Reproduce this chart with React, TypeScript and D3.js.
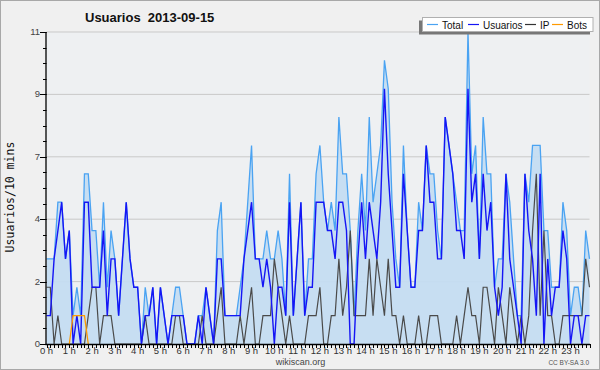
import { useEffect, useRef } from 'react';
import * as d3 from 'd3';

// values per 10 minutes, 2013-09-15 (144 slots)
const total = [
    3, 3, 3, 5, 5, 3, 4, 1, 2, 1,
    6, 6, 4, 4, 2, 5, 2, 4, 3, 1,
    3, 5, 3, 2, 2, 0, 2, 1, 2, 0,
    2, 1, 0, 1, 2, 2, 1, 0, 0, 0,
    1, 1, 2, 1, 0, 4, 5, 1, 1, 1,
    1, 2, 3, 5, 7, 3, 3, 3, 4, 3,
    3, 4, 3, 1, 6, 1, 3, 5, 1, 3,
    3, 6, 7, 5, 4, 5, 4, 8, 6, 6,
    4, 1, 4, 6, 4, 8, 5, 6, 7, 10,
    9, 5, 3, 2, 7, 4, 2, 2, 5, 4,
    7, 6, 6, 4, 3, 8, 7, 6, 5, 4,
    4, 11, 6, 7, 3, 8, 6, 6, 2, 3,
    3, 6, 5, 3, 1, 1, 6, 5, 7, 7,
    7, 4, 4, 2, 2, 2, 5, 4, 1, 2,
    2, 1, 4, 3,
];

const usuarios = [
    1, 1, 3, 4, 5, 3, 4, 0, 1, 0,
    5, 5, 2, 2, 2, 4, 1, 3, 3, 1,
    3, 5, 3, 2, 2, 0, 1, 1, 2, 0,
    2, 1, 0, 1, 1, 1, 1, 0, 0, 0,
    1, 0, 2, 1, 0, 3, 3, 1, 1, 1,
    1, 1, 3, 4, 5, 3, 3, 2, 3, 2,
    0, 2, 2, 1, 5, 1, 3, 5, 1, 2,
    2, 5, 5, 5, 4, 4, 3, 5, 5, 4,
    0, 0, 3, 5, 3, 5, 4, 3, 5, 9,
    6, 4, 2, 2, 6, 4, 2, 2, 4, 4,
    7, 5, 5, 3, 3, 8, 7, 6, 4, 4,
    3, 9, 5, 6, 3, 6, 4, 5, 2, 1,
    2, 6, 3, 2, 1, 0, 6, 4, 3, 1,
    6, 0, 3, 1, 2, 2, 4, 3, 0, 1,
    1, 0, 1, 1,
];

const ip = [
    2, 2, 0, 1, 0, 0, 0, 0, 0, 0,
    0, 1, 2, 2, 0, 1, 1, 1, 0, 0,
    0, 0, 0, 0, 0, 0, 1, 0, 0, 0,
    0, 0, 0, 0, 1, 1, 0, 0, 0, 0,
    0, 1, 0, 0, 0, 1, 2, 0, 0, 0,
    0, 1, 0, 1, 2, 0, 0, 1, 1, 1,
    3, 2, 1, 0, 1, 0, 0, 0, 0, 1,
    1, 1, 2, 0, 0, 1, 1, 3, 1, 2,
    4, 1, 1, 1, 1, 3, 1, 3, 2, 1,
    3, 1, 1, 0, 1, 0, 0, 0, 1, 0,
    0, 1, 1, 1, 0, 0, 0, 0, 1, 0,
    1, 2, 1, 1, 0, 2, 2, 1, 0, 2,
    1, 0, 2, 1, 0, 1, 0, 1, 4, 6,
    1, 4, 1, 1, 0, 0, 1, 1, 1, 1,
    1, 1, 3, 2,
];

const bots = [
    0, 0, 0, 0, 0, 0, 0, 1, 1, 1,
    1, 0, 0, 0, 0, 0, 0, 0, 0, 0,
    0, 0, 0, 0, 0, 0, 0, 0, 0, 0,
    0, 0, 0, 0, 0, 0, 0, 0, 0, 0,
    0, 0, 0, 0, 0, 0, 0, 0, 0, 0,
    0, 0, 0, 0, 0, 0, 0, 0, 0, 0,
    0, 0, 0, 0, 0, 0, 0, 0, 0, 0,
    0, 0, 0, 0, 0, 0, 0, 0, 0, 0,
    0, 0, 0, 0, 0, 0, 0, 0, 0, 0,
    0, 0, 0, 0, 0, 0, 0, 0, 0, 0,
    0, 0, 0, 0, 0, 0, 0, 0, 0, 0,
    0, 0, 0, 0, 0, 0, 0, 0, 0, 0,
    0, 0, 0, 0, 0, 0, 0, 0, 0, 0,
    0, 0, 0, 0, 0, 0, 0, 0, 0, 0,
    0, 0, 0, 0,
];

const hourLabels = d3.range(24).map(h => `${h} h`);
const seriesNames = ['Total', 'Usuarios', 'IP', 'Bots'];
const yMax = 11;

const W = 600;
const H = 370;
const FONT = '"Liberation Sans", Arial, sans-serif';

export default function App() {
    const svgRef = useRef<SVGSVGElement>(null);

    useEffect(() => {
        if (!svgRef.current) return;
        const svg = d3.select(svgRef.current);
        svg.selectAll('*').remove();

        const left = 46.5, right = 589.5, top = 32, bottom = 344;
        const x = d3.scaleLinear().domain([0, total.length - 1]).range([left, right]);
        const y = d3.scaleLinear().domain([0, yMax]).range([bottom, top]);

        // background + frame
        svg.append('rect')
            .attr('x', 0.5).attr('y', 0.5)
            .attr('width', W - 1).attr('height', H - 1)
            .attr('fill', '#f0f0f0')
            .attr('stroke', '#a8a8a8');

        svg.append('rect')
            .attr('x', left).attr('y', top)
            .attr('width', right - left).attr('height', bottom - top)
            .attr('fill', '#eef0f2');

        // grid lines on the major y ticks
        const majors = d3.range(6).map(k => k * yMax / 5);
        const minors = d3.range(21).map(k => k * yMax / 20);

        svg.append('g')
            .selectAll('line')
            .data(majors.slice(1))
            .join('line')
            .attr('x1', left).attr('x2', right)
            .attr('y1', d => y(d)).attr('y2', d => y(d))
            .attr('stroke', '#c9c9c9')
            .attr('stroke-width', 1);

        // Total area
        const idx = d3.range(total.length);
        const area = d3.area<number>()
            .x(i => x(i))
            .y0(y(0))
            .y1(i => y(total[i]));

        svg.append('path')
            .attr('d', area(idx))
            .attr('fill', '#c4dcf1')
            .attr('fill-opacity', 0.95);

        const line = (vals: number[]) => d3.line<number>()
            .x(i => x(i))
            .y(i => y(vals[i]))(idx);

        const series: [number[], string, number][] = [
            [total, '#4aa3f2', 1.3],
            [ip, '#4a4a4a', 1.2],
            [usuarios, '#1515f5', 1.4],
        ];

        series.forEach(([vals, color, w]) => {
            svg.append('path')
                .attr('d', line(vals))
                .attr('fill', 'none')
                .attr('stroke', color)
                .attr('stroke-width', w)
                .attr('stroke-linejoin', 'miter');
        });

        // bots only where they are present, drawn on top
        const botIdx = idx.filter(i => bots[i] > 0 || bots[i - 1] > 0 || bots[i + 1] > 0);
        svg.append('path')
            .attr('d', d3.line<number>().x(i => x(i)).y(i => y(bots[i]))(botIdx))
            .attr('fill', 'none')
            .attr('stroke', '#ff9a00')
            .attr('stroke-width', 1.3);

        // y axis
        const yAxis = svg.append('g');
        yAxis.append('line')
            .attr('x1', left - 0.5).attr('x2', left - 0.5)
            .attr('y1', top).attr('y2', bottom)
            .attr('stroke', '#000').attr('stroke-width', 1.3);
        yAxis.selectAll('line.minor')
            .data(minors)
            .join('line')
            .attr('class', 'minor')
            .attr('x1', left - 3.5).attr('x2', left)
            .attr('y1', d => Math.round(y(d)) + 0.5).attr('y2', d => Math.round(y(d)) + 0.5)
            .attr('stroke', '#000');
        yAxis.selectAll('line.major')
            .data(majors)
            .join('line')
            .attr('class', 'major')
            .attr('x1', left - 6.5).attr('x2', left)
            .attr('y1', d => Math.round(y(d)) + 0.5).attr('y2', d => Math.round(y(d)) + 0.5)
            .attr('stroke', '#000');
        yAxis.selectAll('text')
            .data(majors)
            .join('text')
            .attr('x', left - 6.5)
            .attr('y', d => y(d) + 3)
            .attr('text-anchor', 'end')
            .attr('font-family', FONT)
            .attr('font-size', 9.5)
            .attr('fill', '#444')
            .text(d => d3.format('d')(Math.round(d)));

        // x axis
        const xAxis = svg.append('g');
        xAxis.append('line')
            .attr('x1', left - 1).attr('x2', right + 0.5)
            .attr('y1', bottom + 0.5).attr('y2', bottom + 0.5)
            .attr('stroke', '#000').attr('stroke-width', 1.3);
        xAxis.selectAll('line.tick')
            .data(idx)
            .join('line')
            .attr('class', 'tick')
            .attr('x1', i => Math.round(x(i)) + 0.5).attr('x2', i => Math.round(x(i)) + 0.5)
            .attr('y1', bottom).attr('y2', bottom + 4)
            .attr('stroke', '#000');
        xAxis.selectAll('text')
            .data(hourLabels)
            .join('text')
            .attr('x', (_, h) => x(h * 6))
            .attr('y', bottom + 10)
            .attr('text-anchor', 'middle')
            .attr('font-family', FONT)
            .attr('font-size', 9.5)
            .attr('fill', '#333')
            .text(d => d);

        // title
        svg.append('text')
            .attr('x', 85).attr('y', 21.5)
            .attr('font-family', FONT)
            .attr('font-weight', 'bold')
            .attr('font-size', 13)
            .attr('fill', '#111')
            .style('white-space', 'pre')
            .text('Usuarios  2013-09-15');

        // y label
        svg.append('text')
            .attr('transform', `translate(14,${(top + bottom) / 2 + 9}) rotate(-90)`)
            .attr('text-anchor', 'middle')
            .attr('font-family', '"DejaVu Sans Mono", monospace')
            .attr('font-size', 11.5)
            .attr('fill', '#111')
            .text('Usuarios/10 mins');

        // legend
        const lg = svg.append('g');
        lg.append('rect')
            .attr('x', 419).attr('y', 20.5)
            .attr('width', 171).attr('height', 14)
            .attr('fill', '#777');
        lg.append('rect')
            .attr('x', 422.5).attr('y', 17.5)
            .attr('width', 170.5).attr('height', 14)
            .attr('fill', '#fff')
            .attr('stroke', '#b0b0b0');
        const legendColors = ['#4aa3f2', '#1515f5', '#333', '#ff9a00'];
        const legendX = [427, 468, 525, 552];
        seriesNames.forEach((name, k) => {
            lg.append('line')
                .attr('x1', legendX[k]).attr('x2', legendX[k] + 11)
                .attr('y1', 24.5).attr('y2', 24.5)
                .attr('stroke', legendColors[k])
                .attr('stroke-width', 1.2);
            lg.append('text')
                .attr('x', legendX[k] + 15)
                .attr('y', 28.5)
                .attr('font-family', FONT)
                .attr('font-size', 10)
                .attr('fill', '#111')
                .text(name);
        });

        // footer
        svg.append('text')
            .attr('x', 300.5).attr('y', 365)
            .attr('text-anchor', 'middle')
            .attr('font-family', FONT)
            .attr('font-size', 9)
            .attr('fill', '#444')
            .text('wikiscan.org');
        svg.append('text')
            .attr('x', 589).attr('y', 365)
            .attr('text-anchor', 'end')
            .attr('font-family', FONT)
            .attr('font-size', 6.5)
            .attr('fill', '#555')
            .text('CC BY-SA 3.0');
    }, []);

    return (
        <svg
            ref={svgRef}
            width={W}
            height={H}
            style={{ position: 'absolute', left: 0, top: 0, display: 'block' }}
        />
    );
}
